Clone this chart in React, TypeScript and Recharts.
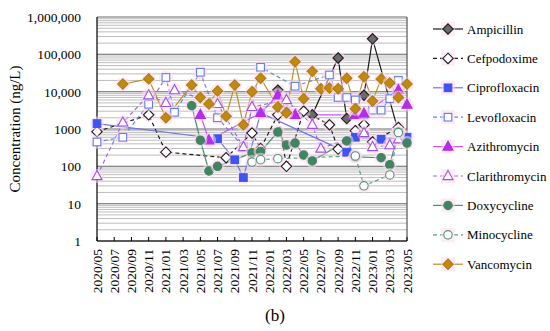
import React from 'react';
import { LineChart, Line, XAxis, YAxis, CartesianGrid, ReferenceLine } from 'recharts';

const months = [
  '2020/05', '2020/06', '2020/07', '2020/08', '2020/09', '2020/10', '2020/11', '2020/12',
  '2021/01', '2021/02', '2021/03', '2021/04', '2021/05', '2021/06', '2021/07', '2021/08',
  '2021/09', '2021/10', '2021/11', '2021/12', '2022/01', '2022/02', '2022/03', '2022/04',
  '2022/05', '2022/06', '2022/07', '2022/08', '2022/09', '2022/10', '2022/11', '2022/12',
  '2023/01', '2023/02', '2023/03', '2023/04', '2023/05',
];

type Pt = [string, number];

const ampicillin: Pt[] = [
  ['2022/02', 11000], ['2022/03', 2800], ['2022/06', 2400], ['2022/09', 80000],
  ['2022/10', 1900], ['2022/12', 8000], ['2023/01', 260000], ['2023/04', 850],
];
const cefpodoxime: Pt[] = [
  ['2020/05', 850], ['2020/11', 2400], ['2021/01', 240], ['2021/08', 170], ['2021/11', 780],
  ['2021/12', 300], ['2022/02', 2400], ['2022/03', 100], ['2022/05', 3000], ['2022/08', 1300],
  ['2022/09', 290], ['2022/11', 900], ['2022/12', 1300], ['2023/01', 450], ['2023/04', 1100],
];
const ciprofloxacin: Pt[] = [
  ['2020/05', 1400], ['2021/07', 550], ['2021/09', 150], ['2021/10', 50], ['2021/12', 2700],
  ['2022/10', 240], ['2022/11', 600], ['2023/02', 530], ['2023/05', 600],
];
const levofloxacin: Pt[] = [
  ['2020/05', 450], ['2020/08', 600], ['2020/11', 4600], ['2021/01', 24000], ['2021/02', 2800],
  ['2021/05', 33000], ['2021/07', 2000], ['2021/10', 330], ['2021/12', 45000], ['2022/04', 14000],
  ['2022/08', 28000], ['2022/09', 7000], ['2022/10', 7000], ['2022/11', 6000], ['2022/12', 2400],
  ['2023/01', 3200], ['2023/02', 3200], ['2023/03', 6500], ['2023/04', 20000],
];
const azithromycin: Pt[] = [
  ['2021/05', 2400], ['2021/06', 500], ['2021/12', 2700], ['2022/02', 8000], ['2022/04', 2400],
  ['2022/11', 2400], ['2022/12', 2600], ['2023/04', 11000], ['2023/05', 4500],
];
const clarithromycin: Pt[] = [
  ['2020/05', 55], ['2020/08', 1500], ['2020/11', 8000], ['2021/01', 5000], ['2021/02', 11000],
  ['2021/07', 4700], ['2021/10', 330], ['2021/11', 3900], ['2022/03', 6000], ['2022/06', 1300],
  ['2022/07', 300], ['2022/12', 780], ['2023/01', 330], ['2023/03', 370], ['2023/04', 530],
];
const doxycycline: Pt[] = [
  ['2021/04', 4200], ['2021/05', 500], ['2021/06', 75], ['2021/07', 100], ['2021/11', 230],
  ['2021/12', 250], ['2022/02', 830], ['2022/03', 370], ['2022/04', 420], ['2022/05', 200],
  ['2022/06', 140], ['2022/10', 480], ['2022/11', 180], ['2023/02', 170], ['2023/03', 110],
  ['2023/04', 830], ['2023/05', 420],
];
const minocycline: Pt[] = [
  ['2021/11', 130], ['2021/12', 150], ['2022/02', 160], ['2022/11', 190], ['2022/12', 30],
  ['2023/03', 59], ['2023/04', 800],
];
const vancomycin: Pt[] = [
  ['2020/08', 16000], ['2020/11', 22000], ['2021/01', 2000], ['2021/04', 15000], ['2021/05', 7000],
  ['2021/06', 4700], ['2021/07', 10500], ['2021/08', 2200], ['2021/09', 15000], ['2021/10', 1300],
  ['2021/11', 10000], ['2021/12', 23000], ['2022/02', 3900], ['2022/03', 2700], ['2022/04', 63000],
  ['2022/05', 6500], ['2022/06', 35000], ['2022/07', 12000], ['2022/08', 12500], ['2022/09', 12000],
  ['2022/10', 23000], ['2022/11', 3500], ['2022/12', 25000], ['2023/01', 5600], ['2023/02', 22000],
  ['2023/03', 17000], ['2023/04', 7000], ['2023/05', 16000],
];

const majorTicks = [1, 10, 100, 1000, 10000, 100000, 1000000];
const majorLabels = ['1', '10', '100', '1000', '10,000', '100,000', '1,000,000'];

type Shape = 'diamond' | 'square' | 'triangle' | 'circle';
interface SeriesDef {
  name: string;
  points: Pt[];
  shape: Shape;
  filled: boolean;
  markColor: string;
  markStroke: string;
  lineColor: string;
  dashed: boolean;
}

const series: SeriesDef[] = [
  { name: 'Ampicillin', points: ampicillin, shape: 'diamond', filled: true, markColor: '#6b6b6b', markStroke: '#1a1a1a', lineColor: '#1a1a1a', dashed: false },
  { name: 'Cefpodoxime', points: cefpodoxime, shape: 'diamond', filled: false, markColor: '#ffffff', markStroke: '#1a1a1a', lineColor: '#1a1a1a', dashed: true },
  { name: 'Ciprofloxacin', points: ciprofloxacin, shape: 'square', filled: true, markColor: '#3f55f0', markStroke: '#3f55f0', lineColor: '#7373e6', dashed: false },
  { name: 'Levofloxacin', points: levofloxacin, shape: 'square', filled: false, markColor: '#ffffff', markStroke: '#5f7ee6', lineColor: '#6a80e8', dashed: true },
  { name: 'Azithromycin', points: azithromycin, shape: 'triangle', filled: true, markColor: '#b62ce8', markStroke: '#b62ce8', lineColor: '#c655f0', dashed: false },
  { name: 'Clarithromycin', points: clarithromycin, shape: 'triangle', filled: false, markColor: '#ffffff', markStroke: '#9d52e2', lineColor: '#a163ee', dashed: true },
  { name: 'Doxycycline', points: doxycycline, shape: 'circle', filled: true, markColor: '#3f8560', markStroke: '#3f8560', lineColor: '#4f8a6c', dashed: false },
  { name: 'Minocycline', points: minocycline, shape: 'circle', filled: false, markColor: '#ffffff', markStroke: '#4f9575', lineColor: '#5b9a80', dashed: true },
  { name: 'Vancomycin', points: vancomycin, shape: 'diamond', filled: true, markColor: '#c08a10', markStroke: '#b07c0c', lineColor: '#b9912a', dashed: false },
];

const gridTicks: number[] = [];
for (let k = 0; k < 6; k++) {
  for (let m = 1; m < 10; m++) gridTicks.push(m * Math.pow(10, k));
}
gridTicks.push(1000000);

const data = months.map((m) => {
  const row: Record<string, string | number | null> = { month: m };
  series.forEach((s) => {
    const f = s.points.find((p) => p[0] === m);
    row[s.name] = f ? f[1] : null;
  });
  return row;
});

const FONT = '"Liberation Serif", "Times New Roman", serif';

function markerEl(shape: Shape, cx: number, cy: number, fill: string, stroke: string, key?: string) {
  const sw = 1.1;
  if (shape === 'diamond') {
    const r = 5.2;
    return <polygon key={key} points={`${cx},${cy - r} ${cx + r},${cy} ${cx},${cy + r} ${cx - r},${cy}`} fill={fill} stroke={stroke} strokeWidth={sw} />;
  }
  if (shape === 'square') {
    const h = 3.8;
    return <rect key={key} x={cx - h} y={cy - h} width={2 * h} height={2 * h} fill={fill} stroke={stroke} strokeWidth={sw} />;
  }
  if (shape === 'triangle') {
    return <polygon key={key} points={`${cx},${cy - 5.5} ${cx + 5},${cy + 3.6} ${cx - 5},${cy + 3.6}`} fill={fill} stroke={stroke} strokeWidth={sw} />;
  }
  return <circle key={key} cx={cx} cy={cy} r={4.2} fill={fill} stroke={stroke} strokeWidth={sw} />;
}

function makeDot(s: SeriesDef) {
  return (props: any) => {
    const { cx, cy, index, value } = props;
    const key = `${s.name}-${index}`;
    if (cx == null || cy == null || value == null || Number.isNaN(cy)) return <g key={key} />;
    return (
      <g key={key}>
        <circle cx={cx} cy={cy} r={7} fill="#ffd9f3" opacity={0.55} />
        {markerEl(s.shape, cx, cy, s.markColor, s.markStroke)}
      </g>
    );
  };
}

const YTick = (props: any) => {
  const { x, y, payload } = props;
  const idx = majorTicks.indexOf(payload.value);
  if (idx < 0) return <g />;
  return (
    <text x={x - 16} y={y + 5} textAnchor="end" fontFamily={FONT} fontSize={13.5} fill="#000">
      {majorLabels[idx]}
    </text>
  );
};

const XTick = (props: any) => {
  const { x, y, payload } = props;
  const tx = x + 4.5;
  const ty = y + 8;
  return (
    <g>
      <line x1={x} y1={y - 4} x2={x} y2={y} stroke="#000" strokeWidth={1} />
      <text x={tx} y={ty} transform={`rotate(-90 ${tx} ${ty})`} textAnchor="end" fontFamily={FONT} fontSize={13.5} fill="#000">
        {payload.value}
      </text>
    </g>
  );
};

const YTitle = (props: any) => {
  const vb = props.viewBox || { x: 0, y: 17, height: 224 };
  const cx = 15;
  const cy = vb.y + vb.height / 2;
  return (
    <text x={cx} y={cy} transform={`rotate(-90 ${cx} ${cy})`} textAnchor="middle" dominantBaseline="central" fontFamily={FONT} fontSize={15} fill="#000">
      Concentration (ng/L)
    </text>
  );
};

export default function App() {
  return (
    <div style={{ position: 'absolute', left: 0, top: 0, width: 550, height: 331, background: '#fff' }}>
      <LineChart width={550} height={331} data={data} margin={{ top: 17, right: 143, bottom: 0, left: 0 }}>
        <CartesianGrid horizontal={true} vertical={false} stroke="#bdbdbd" strokeWidth={1} />
        {majorTicks.map((v) => (
          <ReferenceLine key={v} y={v} stroke="#8a8a8a" strokeWidth={1.2} ifOverflow="extendDomain" />
        ))}
        <ReferenceLine x={months[months.length - 1]} stroke="#555" strokeWidth={1.2} />
        <XAxis
          dataKey="month"
          scale="point"
          padding={{ left: 0, right: 0 }}
          interval={1}
          height={90}
          tickLine={false}
          tickSize={0}
          tickMargin={0}
          axisLine={{ stroke: '#000', strokeWidth: 1.2 }}
          tick={<XTick />}
        />
        <YAxis
          scale="log"
          type="number"
          domain={[1, 1000000]}
          allowDataOverflow
          ticks={gridTicks}
          interval={0}
          width={97}
          tickLine={false}
          tickSize={0}
          tickMargin={0}
          axisLine={{ stroke: '#000', strokeWidth: 1.2 }}
          tick={<YTick />}
          label={<YTitle />}
        />
        {series.map((s) => (
          <Line
            key={s.name}
            dataKey={s.name}
            type="linear"
            stroke={s.lineColor}
            strokeWidth={1.2}
            strokeDasharray={s.dashed ? '4 3' : undefined}
            connectNulls
            isAnimationActive={false}
            dot={makeDot(s)}
            activeDot={false}
          />
        ))}
      </LineChart>
      <svg width={125} height={290} style={{ position: 'absolute', left: 425, top: 14 }}>
        {series.map((s, i) => {
          const y = 15 + i * 29.4;
          return (
            <g key={s.name}>
              <line x1={8} y1={y} x2={38} y2={y} stroke={s.lineColor} strokeWidth={1.2} strokeDasharray={s.dashed ? '4 3' : undefined} />
              <rect x={16} y={y - 7} width={14} height={14} fill="#ffd9f3" opacity={0.55} />
              {markerEl(s.shape, 23, y, s.markColor, s.markStroke)}
              <text x={42} y={y + 4.5} fontFamily={FONT} fontSize={13} fill="#000">{s.name}</text>
            </g>
          );
        })}
      </svg>
      <div style={{ position: 'absolute', left: 0, width: 550, top: 306, textAlign: 'center', fontFamily: FONT, fontSize: 17, color: '#000' }}>
        (b)
      </div>
    </div>
  );
}
